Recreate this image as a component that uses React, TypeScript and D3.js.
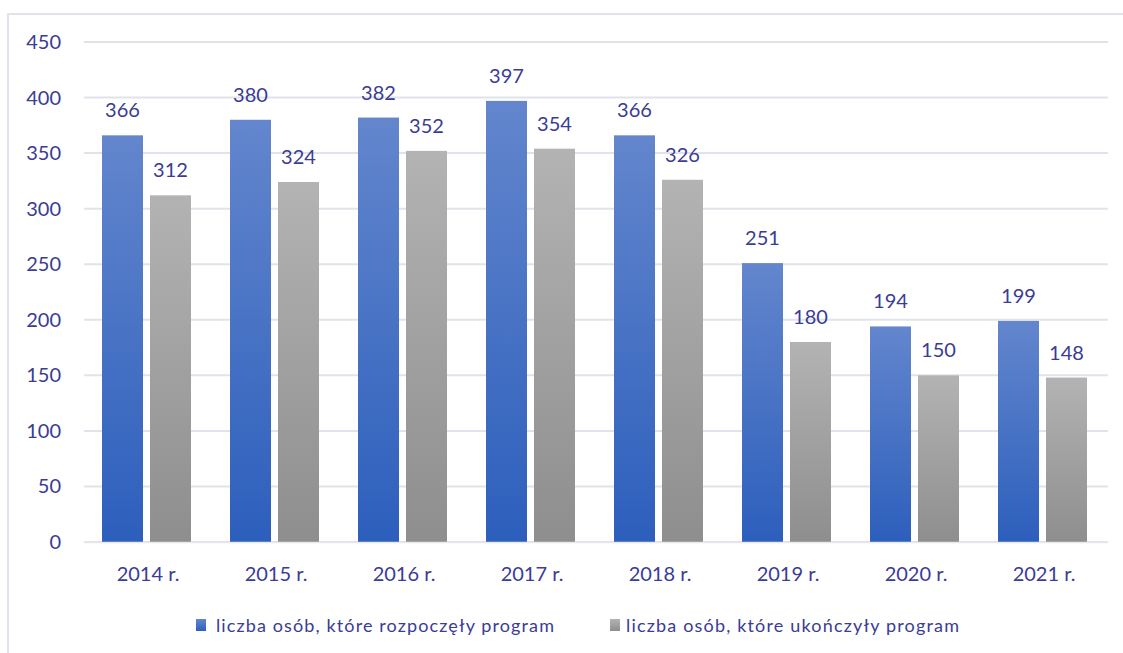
import React from 'react'
import * as d3 from 'd3'

const years = ['2014 r.', '2015 r.', '2016 r.', '2017 r.', '2018 r.', '2019 r.', '2020 r.', '2021 r.']
const started = [366, 380, 382, 397, 366, 251, 194, 199]
const finished = [312, 324, 352, 354, 326, 180, 150, 148]
const seriesNames = ['liczba osób, które rozpoczęły program', 'liczba osób, które ukończyły program']
const yTicks = [0, 50, 100, 150, 200, 250, 300, 350, 400, 450]

const W = 1123
const H = 653
const plot = { left: 84, right: 1108, top: 42, bottom: 542 }
const textColor = '#3a3c96'
const gridColor = '#e0e3e9'
const font = 'Lato, Calibri, sans-serif'

const x = d3.scaleBand<string>().domain(years).range([plot.left, plot.right]).paddingInner(0).paddingOuter(0)
const y = d3.scaleLinear().domain([0, 450]).range([plot.bottom, plot.top])
// two bars per year, ~41px wide with a 7px gap
const inner = d3.scaleBand<string>().domain(['a', 'b']).range([18, 18 + 89]).paddingInner(0.146)

const series = [
  { key: 'a', values: started, grad: 'gBlue' },
  { key: 'b', values: finished, grad: 'gGray' },
]

export default function App() {
  return (
    <svg width={W} height={H} style={{ display: 'block', position: 'absolute', left: 0, top: 0 }}>
      <defs>
        <linearGradient id="gBlue" x1="0" y1="0" x2="0" y2="1">
          <stop offset="0" stopColor="#6386cd" />
          <stop offset="1" stopColor="#2c5fbc" />
        </linearGradient>
        <linearGradient id="gGray" x1="0" y1="0" x2="0" y2="1">
          <stop offset="0" stopColor="#b3b3b3" />
          <stop offset="1" stopColor="#8e8e8e" />
        </linearGradient>
      </defs>
      <rect x={0} y={0} width={W} height={H} fill="#fff" />
      {/* chart frame */}
      <path d={`M8,${H} V14 H${W}`} fill="none" stroke="#dfe3ea" strokeWidth={2} />

      {yTicks.map(t => (
        <g key={t}>
          <line x1={plot.left} x2={plot.right} y1={y(t)} y2={y(t)} stroke={gridColor} strokeWidth={2} />
          <text x={61} y={y(t)} dy="0.35em" textAnchor="end" fontFamily={font} fontSize={20} fill={textColor}>{t}</text>
        </g>
      ))}

      {series.map(s => (
        <g key={s.key}>
          {years.map((yr, i) => {
            const bx = (x(yr) as number) + (inner(s.key) as number)
            const v = s.values[i]
            return (
              <g key={yr}>
                <rect x={bx} y={y(v)} width={inner.bandwidth()} height={y(0) - y(v)} fill={`url(#${s.grad})`} />
                <text x={bx + inner.bandwidth() / 2} y={y(v) - 18} textAnchor="middle" fontFamily={font} fontSize={20} fill={textColor}>{v}</text>
              </g>
            )
          })}
        </g>
      ))}

      <line x1={plot.left} x2={plot.right} y1={y(0) + 0.5} y2={y(0) + 0.5} stroke="#e6e8ee" strokeWidth={1.5} />

      {years.map(yr => (
        <text key={yr} x={(x(yr) as number) + x.bandwidth() / 2} y={581} textAnchor="middle" fontFamily={font} fontSize={20} fill={textColor}>{yr}</text>
      ))}

      {/* legend */}
      <rect x={196} y={619} width={10} height={12} fill="url(#gBlue)" />
      <text x={216} y={632} fontFamily={font} fontSize={18} fill={textColor} textLength={338} lengthAdjust="spacing">{seriesNames[0]}</text>
      <rect x={610} y={619} width={10} height={12} fill="url(#gGray)" />
      <text x={626} y={632} fontFamily={font} fontSize={18} fill={textColor} textLength={333} lengthAdjust="spacing">{seriesNames[1]}</text>
    </svg>
  )
}
